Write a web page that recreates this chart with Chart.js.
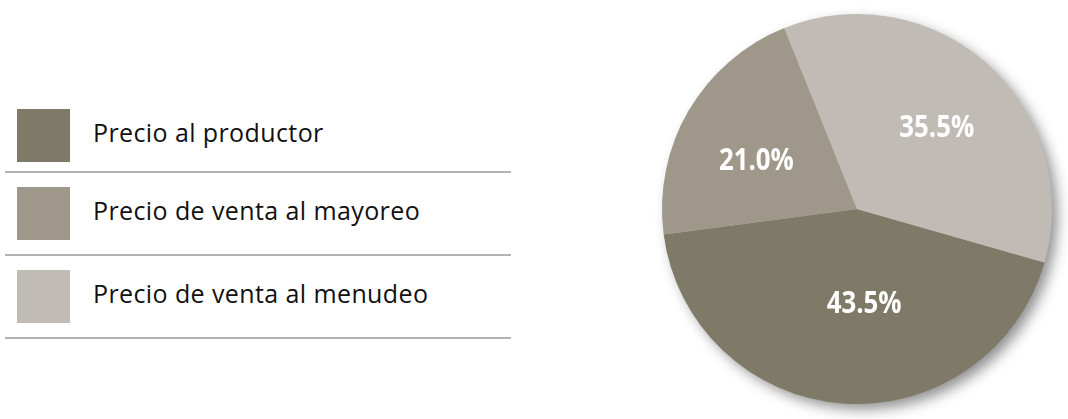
<!DOCTYPE html>
<html>
<head>
<meta charset="utf-8">
<script src="https://cdn.jsdelivr.net/npm/chart.js@4"></script>
<style>
  body { margin: 0; background: #fff; width: 1068px; height: 419px; position: relative; overflow: hidden; font-family: "Open Sans", "Noto Sans", sans-serif; }
  #legend { position: absolute; left: 5px; top: 109px; width: 506px; }
  .item { position: relative; border-bottom: 2px solid #b3b3b3; }
  .sw { position: absolute; left: 12px; top: 0; width: 53px; height: 53px; }
  .lbl { position: absolute; left: 88px; top: 6px; font-size: 25px; line-height: normal; letter-spacing: 0.4px; color: #111; white-space: nowrap; }
  #wrap { position: absolute; left: 640px; top: 0; width: 428px; height: 419px; }
</style>
</head>
<body>
<div id="legend"></div>
<div id="wrap"><canvas id="pie"></canvas></div>
<script>
const labels = ["Precio al productor", "Precio de venta al mayoreo", "Precio de venta al menudeo"];
const values = [43.5, 21.0, 35.5];
const colors = ["#7f7a68", "#9e978a", "#c0bcb5"];

// leyenda a la izquierda
const legend = document.getElementById("legend");
labels.forEach((name, i) => {
  const item = document.createElement("div");
  item.className = "item";
  item.style.marginTop = i === 0 ? "0" : "14px";
  item.style.height = i === 0 ? "62px" : "67px";
  item.innerHTML = `<div class="sw" style="background:${colors[i]}"></div><div class="lbl">${name}</div>`;
  legend.appendChild(item);
});

// sombra detras del pastel
const shadowPlugin = {
  id: "shadow",
  beforeDatasetsDraw(chart) {
    const arc = chart.getDatasetMeta(0).data[0];
    if (!arc) return;
    const ctx = chart.ctx;
    ctx.save();
    ctx.shadowColor = "rgba(0,0,0,0.45)";
    ctx.shadowBlur = 14;
    ctx.shadowOffsetX = 6;
    ctx.shadowOffsetY = 6;
    ctx.fillStyle = colors[2];
    ctx.beginPath();
    ctx.arc(arc.x, arc.y, arc.outerRadius - 1, 0, Math.PI * 2);
    ctx.fill();
    ctx.restore();
  }
};

// etiquetas de porcentaje (letra condensada)
const labelPlugin = {
  id: "pctLabels",
  afterDatasetsDraw(chart, args, opts) {
    const ctx = chart.ctx;
    chart.getDatasetMeta(0).data.forEach((arc, i) => {
      const mid = (arc.startAngle + arc.endAngle) / 2;
      const r = arc.outerRadius * opts.fraction;
      const x = arc.x + Math.cos(mid) * r + opts.shift[i][0];
      const y = arc.y + Math.sin(mid) * r + opts.shift[i][1];
      ctx.save();
      ctx.fillStyle = "#fff";
      ctx.font = 'bold 30px "Open Sans", sans-serif';
      ctx.textAlign = "center";
      ctx.textBaseline = "alphabetic";
      ctx.translate(x, y + 11);
      ctx.scale(0.86, 1);
      ctx.fillText(values[i].toFixed(1) + "%", 0, 0);
      ctx.restore();
    });
  }
};

new Chart(document.getElementById("pie"), {
  type: "pie",
  data: {
    labels,
    datasets: [{ data: values, backgroundColor: colors, borderWidth: 0, hoverOffset: 0 }]
  },
  options: {
    responsive: true,
    maintainAspectRatio: false,
    animation: false,
    rotation: 105.9,
    layout: { padding: { left: 22, right: 16, top: 14, bottom: 15 } },
    plugins: {
      legend: { display: false },
      tooltip: { enabled: false },
      pctLabels: { fraction: 0.55, shift: [[15, -13.5], [-8, 4], [8, -3]] }
    }
  },
  plugins: [shadowPlugin, labelPlugin]
});
</script>
</body>
</html>
